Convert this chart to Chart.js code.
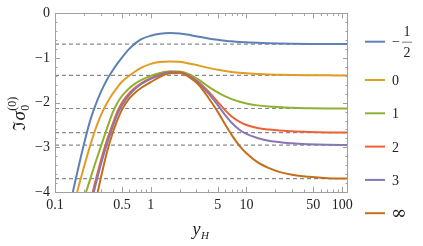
<!DOCTYPE html>
<html><head><meta charset="utf-8">
<script src="https://cdn.jsdelivr.net/npm/chart.js@4.4.1/dist/chart.umd.min.js"></script>
<style>html,body{margin:0;padding:0;background:#fff;}#wrap{width:423px;height:246px;}</style>
</head><body><div id="wrap"><canvas id="c" width="423" height="246"></canvas></div>
<script>
// ---- data ----
const xValues = [0.13, 0.15, 0.17, 0.2, 0.23, 0.26, 0.3, 0.35, 0.4, 0.45, 0.5, 0.6, 0.7, 0.8, 1, 1.25, 1.6, 2, 2.5, 3.2, 4, 5, 6, 7, 8.5, 10, 13, 17, 22, 30, 45, 70, 115];
const seriesLabels = ['−1/2', '0', '1', '2', '3', '∞'];
const seriesMinusHalf = [-4.8, -4.11, -3.58, -2.94, -2.44, -2.10, -1.77, -1.48, -1.28, -1.12, -0.99, -0.79, -0.66, -0.575, -0.50, -0.455, -0.44, -0.45, -0.48, -0.525, -0.56, -0.59, -0.61, -0.625, -0.64, -0.648, -0.66, -0.668, -0.674, -0.679, -0.683, -0.685, -0.686];
const series0 = [-5.1, -4.5, -4.01, -3.45, -3.0, -2.64, -2.29, -2.0, -1.80, -1.65, -1.53, -1.39, -1.29, -1.215, -1.13, -1.09, -1.075, -1.085, -1.12, -1.17, -1.22, -1.26, -1.29, -1.31, -1.33, -1.34, -1.355, -1.368, -1.375, -1.382, -1.386, -1.388, -1.39];
const series1 = [-5.5, -5.04, -4.65, -4.16, -3.75, -3.39, -2.99, -2.57, -2.22, -2.00, -1.85, -1.67, -1.56, -1.49, -1.40, -1.335, -1.295, -1.30, -1.36, -1.49, -1.64, -1.77, -1.86, -1.92, -1.98, -2.02, -2.06, -2.085, -2.10, -2.115, -2.123, -2.128, -2.13];
const series2 = [-7.5, -6.8, -5.5, -4.84, -4.29, -3.82, -3.31, -2.83, -2.48, -2.19, -2.00, -1.78, -1.65, -1.56, -1.45, -1.37, -1.315, -1.32, -1.39, -1.55, -1.75, -1.98, -2.17, -2.31, -2.43, -2.50, -2.565, -2.60, -2.62, -2.64, -2.655, -2.665, -2.67];
const series3 = [-7.8, -7.0, -5.7, -5.0, -4.42, -3.92, -3.40, -2.91, -2.54, -2.25, -2.06, -1.82, -1.675, -1.58, -1.465, -1.38, -1.32, -1.325, -1.40, -1.57, -1.79, -2.05, -2.28, -2.45, -2.61, -2.70, -2.79, -2.85, -2.88, -2.91, -2.93, -2.943, -2.95];
const seriesInf = [-8.5, -7.6, -6.9, -6.0, -4.8, -4.30, -3.70, -3.10, -2.68, -2.38, -2.16, -1.90, -1.76, -1.665, -1.54, -1.42, -1.34, -1.335, -1.42, -1.61, -1.89, -2.20, -2.49, -2.72, -2.97, -3.13, -3.33, -3.46, -3.55, -3.615, -3.66, -3.69, -3.70];
const asymptotes = [-0.686, -1.39, -2.13, -2.67, -2.95, -3.70];
const xRange = [0.1, 115];
const yRange = [-4, 0];
const xTickValues = [0.1, 0.5, 1, 5, 10, 50, 100];
const xTickLabels = ['0.1', '0.5', '1', '5', '10', '50', '100'];
const yTickValues = [0, -1, -2, -3, -4];
const yTickLabels = ['0', '−1', '−2', '−3', '−4'];

const colors = ['#5E81B5', '#E19C24', '#8FB032', '#EB6235', '#8778B3', '#C56E1A'];
const allSeries = [seriesMinusHalf, series0, series1, series2, series3, seriesInf];

const datasets = [];
allSeries.forEach((ys, i) => {
  datasets.push({
    label: seriesLabels[i],
    data: xValues.map((x, k) => ({x: x, y: ys[k]})),
    borderColor: colors[i], borderWidth: 2, pointRadius: 0, showLine: true,
    cubicInterpolationMode: 'monotone', fill: false, order: 5 - i
  });
});
asymptotes.forEach(v => {
  datasets.push({
    label: 'asym',
    data: [{x: xRange[0], y: v}, {x: xRange[1], y: v}],
    borderColor: '#8a8a8a', borderWidth: 1.2, borderDash: [4, 3], pointRadius: 0, showLine: true, order: 10
  });
});

const serif = '"Liberation Serif", "DejaVu Serif", serif';

const decor = {
  id: 'decor',
  afterDraw(chart) {
    const ctx = chart.ctx, a = chart.chartArea, xs = chart.scales.x, ys = chart.scales.y;
    ctx.save();
    // frame
    ctx.strokeStyle = '#a0a0a0'; ctx.lineWidth = 1;
    ctx.strokeRect(Math.round(a.left) + 0.5, Math.round(a.top) + 0.5, Math.round(a.right - a.left) - 1, Math.round(a.bottom - a.top));
    ctx.beginPath();
    for (let k = 0; k <= 20; k++) {
      const v = -4 + k * 0.2;
      const p = Math.round(ys.getPixelForValue(v)) + 0.5;
      const len = (k % 5 === 0) ? 5 : 2.5;
      ctx.moveTo(a.left, p); ctx.lineTo(a.left + len, p);
      ctx.moveTo(a.right, p); ctx.lineTo(a.right - len, p);
    }
    [0.1, 1, 10, 100].forEach(d => {
      for (let m = 1; m <= 9; m++) {
        const v = d * m;
        if (v > xRange[1]) continue;
        const p = Math.round(xs.getPixelForValue(v)) + 0.5;
        const len = (m === 1 || m === 5) ? 5 : 2.5;
        ctx.moveTo(p, a.bottom); ctx.lineTo(p, a.bottom - len);
        ctx.moveTo(p, a.top); ctx.lineTo(p, a.top + len);
      }
    });
    ctx.stroke();

    // x title y_H
    ctx.fillStyle = '#222';
    ctx.textBaseline = 'alphabetic'; ctx.textAlign = 'left';
    ctx.font = 'italic 18px ' + serif;
    const cx = (a.left + a.right) / 2;
    ctx.fillText('y', cx - 9, 235);
    ctx.font = 'italic 11px ' + serif;
    ctx.fillText('H', cx - 0.5, 239);

    // y title
    ctx.save();
    ctx.translate(25, 131);
    ctx.rotate(-Math.PI / 2);
    let u = 0;
    ctx.font = '17px "DejaVu Serif", serif';
    ctx.fillText('ℑ', u, 0); u += ctx.measureText('ℑ').width + 0.5;
    ctx.font = 'italic 19px ' + serif;
    ctx.fillText('σ', u, 0); u += ctx.measureText('σ').width + 0.5;
    ctx.font = '12px ' + serif;
    ctx.fillText('0', u, 4);
    ctx.fillText('(0)', u, -9);
    ctx.restore();

    // legend
    const lx0 = 365, lx1 = 385, tx = 392;
    let ly = 41.7;
    for (let i = 0; i < seriesLabels.length; i++) {
      ctx.strokeStyle = colors[i]; ctx.lineWidth = 2;
      ctx.beginPath(); ctx.moveTo(lx0, ly); ctx.lineTo(lx1, ly); ctx.stroke();
      ctx.fillStyle = '#222';
      const lab = seriesLabels[i];
      if (lab === '−1/2') {
        ctx.font = '14px ' + serif; ctx.textAlign = 'left';
        ctx.fillText('−', tx, ly + 4.5);
        ctx.textAlign = 'center';
        ctx.fillText('1', 407, ly - 6);
        ctx.fillText('2', 407, ly + 15);
        ctx.strokeStyle = '#444'; ctx.lineWidth = 0.7;
        ctx.beginPath(); ctx.moveTo(402, ly + 0.5); ctx.lineTo(412, ly + 0.5); ctx.stroke();
        ctx.textAlign = 'left';
        ly += 38.3;
      } else if (lab === '∞') {
        ctx.font = '19px "DejaVu Serif", serif'; ctx.textAlign = 'left';
        ctx.fillText(lab, tx - 1, ly + 6);
        ly += 33.3;
      } else {
        ctx.font = '14px ' + serif; ctx.textAlign = 'left';
        ctx.fillText(lab, tx, ly + 5);
        ly += 33.3;
      }
    }
    ctx.restore();
  }
};

new Chart(document.getElementById('c'), {
  type: 'scatter',
  data: {datasets: datasets},
  options: {
    responsive: false, animation: false, devicePixelRatio: 1,
    layout: {padding: {left: 0, right: 75, top: 12, bottom: 0}},
    plugins: {legend: {display: false}, tooltip: {enabled: false}},
    scales: {
      x: {
        type: 'logarithmic', min: xRange[0], max: xRange[1],
        grid: {display: false, drawTicks: false}, border: {display: false},
        afterBuildTicks: s => { s.ticks = xTickValues.map(v => ({value: v})); },
        afterFit: s => { s.height = 54; },
        ticks: {
          autoSkip: false, maxRotation: 0, padding: 5, color: '#222',
          font: {family: serif, size: 14},
          callback: (v) => { const i = xTickValues.indexOf(v); return i >= 0 ? xTickLabels[i] : ''; }
        }
      },
      y: {
        type: 'linear', min: yRange[0], max: yRange[1],
        grid: {display: false, drawTicks: false}, border: {display: false},
        afterBuildTicks: s => { s.ticks = yTickValues.map(v => ({value: v})); },
        afterFit: s => { s.width = 55; },
        ticks: {
          padding: 5, color: '#222', font: {family: serif, size: 14},
          callback: (v) => { const i = yTickValues.indexOf(v); return i >= 0 ? yTickLabels[i] : ''; }
        }
      }
    }
  },
  plugins: [decor]
});
</script></body></html>
